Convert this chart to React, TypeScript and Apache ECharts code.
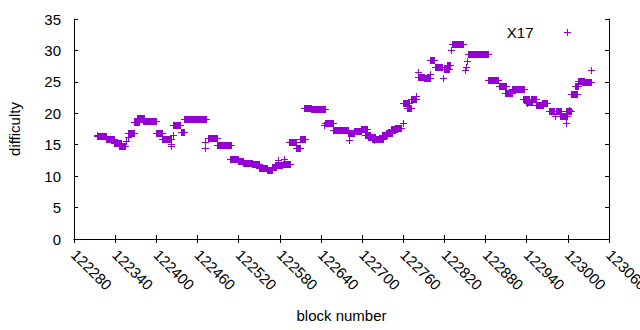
import { useEffect, useRef } from 'react';
import * as echarts from 'echarts';

// Runs of consecutive blocks that share (visually) the same difficulty.
const runStart = [
  122313, 122314, 122326, 122339, 122345, 122356, 122358, 122359, 122368, 122372,
  122380, 122399, 122409, 122421, 122422, 122424, 122424, 122436, 122440, 122471,
  122471, 122475, 122488, 122508, 122519, 122526, 122539, 122550, 122562, 122568,
  122573, 122578, 122585, 122586, 122593, 122603, 122609, 122615, 122626, 122644,
  122646, 122657, 122680, 122681, 122688, 122698, 122704, 122709, 122714, 122717,
  122729, 122735, 122742, 122748, 122759, 122759, 122765, 122771, 122778, 122781,
  122781, 122790, 122799, 122799, 122807, 122818, 122819, 122824, 122829, 122831,
  122850, 122851, 122853, 122854, 122884, 122899, 122909, 122918, 122935, 122939,
  122941, 122946, 122954, 122962, 122972, 122981, 122983, 122989, 122998, 122998,
  123002, 123005, 123011, 123015, 123021, 123034,
];
const runEnd = [
  122313, 122326, 122339, 122348, 122355, 122356, 122358, 122368, 122375, 122382,
  122400, 122409, 122421, 122421, 122422, 122424, 122435, 122441, 122472, 122471,
  122471, 122488, 122509, 122519, 122526, 122539, 122550, 122562, 122569, 122575,
  122583, 122578, 122595, 122586, 122603, 122610, 122617, 122626, 122646, 122644,
  122657, 122680, 122688, 122681, 122699, 122707, 122711, 122719, 122731, 122717,
  122736, 122743, 122751, 122757, 122759, 122769, 122771, 122779, 122778, 122781,
  122791, 122799, 122799, 122805, 122816, 122818, 122826, 122828, 122829, 122847,
  122850, 122851, 122853, 122884, 122898, 122910, 122918, 122936, 122943, 122948,
  122941, 122954, 122964, 122970, 122980, 122981, 122990, 122999, 122998, 123005,
  123002, 123013, 123015, 123023, 123034, 123034,
];
const runDifficulty = [
  16.5, 16.34, 15.86, 15.27, 14.84, 15.59, 16.18, 16.91, 18.6, 19.2,
  18.72, 16.8, 15.9, 15.1, 14.8, 16.55, 18.1, 17.0, 19.09, 15.38,
  14.43, 16.0, 15.0, 12.68, 12.46, 12.14, 11.88, 11.35, 10.98, 11.5,
  11.85, 12.57, 11.93, 12.8, 15.38, 14.4, 15.86, 20.8, 20.63, 18.14,
  18.4, 17.3, 16.8, 15.75, 17.18, 17.45, 16.55, 16.3, 15.93, 15.75,
  16.55, 16.9, 17.45, 17.6, 18.5, 21.6, 20.9, 22.2, 22.75, 26.5,
  25.7, 25.56, 26.3, 28.5, 27.4, 25.56, 27.0, 27.7, 30.07, 30.95,
  26.9, 27.4, 28.3, 29.5, 25.25, 24.3, 23.3, 23.8, 22.35, 21.85,
  21.6, 22.3, 21.24, 21.7, 20.4, 19.5, 20.3, 19.6, 18.4, 20.36,
  20.5, 23.0, 24.4, 25.2, 25.05, 26.9,
];

const SERIES_NAME = 'X17';
const X_MIN = 122280;
const X_MAX = 123060;
const X_STEP = 60;
const Y_MIN = 0;
const Y_MAX = 35;
const Y_STEP = 5;

export default function App() {
  const ref = useRef<HTMLDivElement>(null);
  useEffect(() => {
    const chart = echarts.init(ref.current!, null, { renderer: 'svg' });
    const color = '#9400d3';
    const font = "'Liberation Sans', Arial, sans-serif";
    const arm = 3.5;
    const data = runStart.map((s, i) => [s, runEnd[i], runDifficulty[i]]);
    const axisLine = { show: true, lineStyle: { color: '#000', width: 1 } };
    const axisTick = { show: true, inside: true, length: 4, lineStyle: { color: '#000', width: 1 } };
    chart.setOption({
      animation: false,
      backgroundColor: '#fff',
      grid: { left: 74, right: 31, top: 19, bottom: 91, containLabel: false, outerBoundsMode: 'none' },
      legend: {
        data: [{ name: SERIES_NAME, icon: 'path://M0,3H7V4H0Z M3,0H4V7H3Z' }],
        right: 69,
        top: 25,
        padding: 0,
        align: 'right',
        itemWidth: 58,
        itemHeight: 7,
        itemStyle: { color },
        textStyle: { color: '#000', fontSize: 15, fontFamily: font },
        selectedMode: false,
      },
      xAxis: [
        {
          type: 'value', min: X_MIN, max: X_MAX, interval: X_STEP, position: 'bottom',
          axisLine, axisTick,
          axisLabel: {
            rotate: -45, color: '#000', fontSize: 15, fontFamily: font, margin: 13,
            showMinLabel: true, showMaxLabel: true,
            formatter: (v: number) => String(v),
          },
          splitLine: { show: false },
          name: 'block number', nameLocation: 'middle', nameGap: 69,
          nameTextStyle: { color: '#000', fontSize: 15, fontFamily: font },
        },
        {
          type: 'value', min: X_MIN, max: X_MAX, interval: X_STEP, position: 'top',
          axisLine, axisTick, axisLabel: { show: false }, splitLine: { show: false },
        },
      ],
      yAxis: [
        {
          type: 'value', min: Y_MIN, max: Y_MAX, interval: Y_STEP, position: 'left',
          axisLine, axisTick,
          axisLabel: { color: '#000', fontSize: 15, fontFamily: font, margin: 13 },
          splitLine: { show: false },
          name: 'difficulty', nameLocation: 'middle', nameGap: 52,
          nameTextStyle: { color: '#000', fontSize: 15, fontFamily: font },
        },
        {
          type: 'value', min: Y_MIN, max: Y_MAX, interval: Y_STEP, position: 'right',
          axisLine, axisTick, axisLabel: { show: false }, splitLine: { show: false },
        },
      ],
      series: [
        {
          name: SERIES_NAME,
          type: 'custom',
          xAxisIndex: 0,
          yAxisIndex: 0,
          encode: { x: [0, 1], y: 2 },
          itemStyle: { color },
          data,
          renderItem: (_params: any, api: any) => {
            const y = api.value(2);
            const p0 = api.coord([api.value(0), y]);
            const p1 = api.coord([api.value(1), y]);
            const cy = Math.round(p0[1]) + 0.5;
            const x0 = Math.round(p0[0]);
            const x1 = Math.round(p1[0]);
            return {
              type: 'group',
              children: [
                {
                  type: 'rect',
                  shape: { x: x0, y: cy - arm, width: x1 - x0 + 1, height: arm * 2 },
                  style: { fill: color },
                },
                {
                  type: 'line',
                  shape: { x1: x0 - arm + 0.5, y1: cy, x2: x1 + arm + 0.5, y2: cy },
                  style: { stroke: color, lineWidth: 1 },
                },
              ],
            };
          },
        },
      ],
    });
    return () => chart.dispose();
  }, []);
  return <div ref={ref} style={{ position: 'fixed', left: 0, top: 0, width: 640, height: 330 }} />;
}
